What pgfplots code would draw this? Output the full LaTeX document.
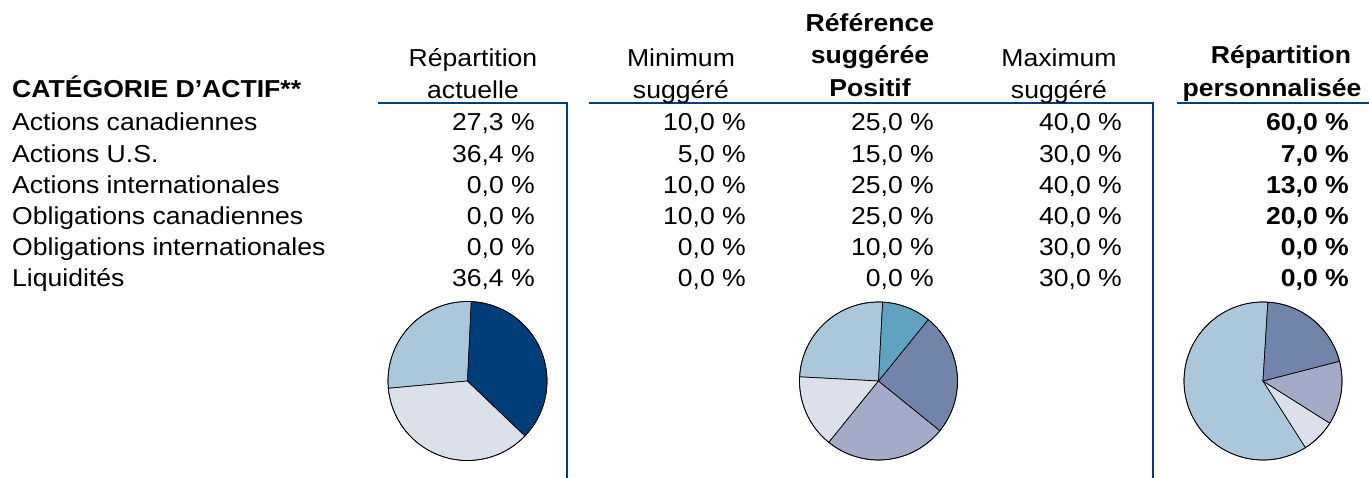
\documentclass[border=0pt]{standalone}
\usepackage{pgfplots}
\pgfplotsset{compat=1.18}
\usepackage{fontspec}
\setmainfont[FakeStretch=1.085]{Liberation Sans}
\definecolor{navy}{HTML}{003E7A}
\definecolor{cA}{HTML}{ABC7DC}
\definecolor{cB}{HTML}{DCE0EA}
\definecolor{cC}{HTML}{A3ABC8}
\definecolor{cD}{HTML}{7384AB}
\definecolor{cE}{HTML}{5FA3BF}
\definecolor{cF}{HTML}{003E7A}

% pie: center, radius, start angle, list value/colour (counterclockwise)
\newcommand\pie[4]{%
  \xdef\curang{#3}%
  \foreach \v/\c in {#4}{%
    \pgfmathsetmacro\endang{\curang+3.6*\v}%
    \ifdim\v pt>0pt\relax
      \filldraw[draw=black, line width=0.7bp, fill=\c] (#1) -- ++(\curang:#2)
        arc[start angle=\curang, end angle=\endang, radius=#2] -- cycle;
    \fi
    \xdef\curang{\endang}%
  }%
  \draw[black, line width=0.7bp] (#1) circle[radius=#2];
}

\begin{document}
\begin{tikzpicture}[x=1bp,y=1bp,
  txt/.style={font=\fontsize{24.5bp}{29bp}\selectfont, inner sep=0pt},
  btxt/.style={font=\fontsize{24.5bp}{29bp}\selectfont\bfseries, inner sep=0pt}]
\useasboundingbox (0,0) rectangle (1369,478);
\begin{axis}[at={(0,0)}, anchor=south west, width=1369bp, height=478bp,
  scale only axis, hide axis, xmin=0, xmax=1369, ymin=0, ymax=478, clip=false]
  \coordinate (P1) at (axis cs:467.5,97);
  \coordinate (P2) at (axis cs:878.5,97);
  \coordinate (P3) at (axis cs:1263,97);
  % rules
  \draw[navy, line width=2bp] (axis cs:378,374.5) -- (axis cs:567,374.5) -- (axis cs:567,0);
  \draw[navy, line width=2bp] (axis cs:589,374.5) -- (axis cs:1153,374.5) -- (axis cs:1153,0);
  \draw[navy, line width=2bp] (axis cs:1177,374.5) -- (axis cs:1369,374.5);
  % headers
  \node[btxt, anchor=base west] at (axis cs:12,380) {CATÉGORIE D’ACTIF**};
  \node[txt, anchor=base] at (axis cs:473,411.5) {Répartition};
  \node[txt, anchor=base] at (axis cs:473,379) {actuelle};
  \node[txt, anchor=base] at (axis cs:681,411.5) {Minimum};
  \node[txt, anchor=base] at (axis cs:681,379) {suggéré};
  \node[btxt, anchor=base] at (axis cs:870,446.5) {Référence};
  \node[btxt, anchor=base] at (axis cs:870,414) {suggérée};
  \node[btxt, anchor=base] at (axis cs:870,381.5) {Positif};
  \node[txt, anchor=base] at (axis cs:1059,411.5) {Maximum};
  \node[txt, anchor=base] at (axis cs:1059,379) {suggéré};
  \node[btxt, anchor=base] at (axis cs:1281,414) {Répartition};
  \node[btxt, anchor=base] at (axis cs:1272,381.5) {personnalisée};
  % rows
  \node[txt, anchor=base west] at (axis cs:12,347)   {Actions canadiennes};
  \node[txt, anchor=base west] at (axis cs:12,315.9) {Actions U.S.};
  \node[txt, anchor=base west] at (axis cs:12,284.8) {Actions internationales};
  \node[txt, anchor=base west] at (axis cs:12,253.7) {Obligations canadiennes};
  \node[txt, anchor=base west] at (axis cs:12,222.6) {Obligations internationales};
  \node[txt, anchor=base west] at (axis cs:12,191.5) {Liquidités};
  % column 1
  \node[txt, anchor=base east] at (axis cs:535,347)   {27,3 \%};
  \node[txt, anchor=base east] at (axis cs:535,315.9) {36,4 \%};
  \node[txt, anchor=base east] at (axis cs:535,284.8) {0,0 \%};
  \node[txt, anchor=base east] at (axis cs:535,253.7) {0,0 \%};
  \node[txt, anchor=base east] at (axis cs:535,222.6) {0,0 \%};
  \node[txt, anchor=base east] at (axis cs:535,191.5) {36,4 \%};
  % column 2
  \node[txt, anchor=base east] at (axis cs:746,347)   {10,0 \%};
  \node[txt, anchor=base east] at (axis cs:746,315.9) {5,0 \%};
  \node[txt, anchor=base east] at (axis cs:746,284.8) {10,0 \%};
  \node[txt, anchor=base east] at (axis cs:746,253.7) {10,0 \%};
  \node[txt, anchor=base east] at (axis cs:746,222.6) {0,0 \%};
  \node[txt, anchor=base east] at (axis cs:746,191.5) {0,0 \%};
  % column 3
  \node[txt, anchor=base east] at (axis cs:934,347)   {25,0 \%};
  \node[txt, anchor=base east] at (axis cs:934,315.9) {15,0 \%};
  \node[txt, anchor=base east] at (axis cs:934,284.8) {25,0 \%};
  \node[txt, anchor=base east] at (axis cs:934,253.7) {25,0 \%};
  \node[txt, anchor=base east] at (axis cs:934,222.6) {10,0 \%};
  \node[txt, anchor=base east] at (axis cs:934,191.5) {0,0 \%};
  % column 4
  \node[txt, anchor=base east] at (axis cs:1122,347)   {40,0 \%};
  \node[txt, anchor=base east] at (axis cs:1122,315.9) {30,0 \%};
  \node[txt, anchor=base east] at (axis cs:1122,284.8) {40,0 \%};
  \node[txt, anchor=base east] at (axis cs:1122,253.7) {40,0 \%};
  \node[txt, anchor=base east] at (axis cs:1122,222.6) {30,0 \%};
  \node[txt, anchor=base east] at (axis cs:1122,191.5) {30,0 \%};
  % column 5
  \node[btxt, anchor=base east] at (axis cs:1349,347)   {60,0 \%};
  \node[btxt, anchor=base east] at (axis cs:1349,315.9) {7,0 \%};
  \node[btxt, anchor=base east] at (axis cs:1349,284.8) {13,0 \%};
  \node[btxt, anchor=base east] at (axis cs:1349,253.7) {20,0 \%};
  \node[btxt, anchor=base east] at (axis cs:1349,222.6) {0,0 \%};
  \node[btxt, anchor=base east] at (axis cs:1349,191.5) {0,0 \%};
\end{axis}
\pie{P1}{79.5bp}{87}{27.3/cA,36.4/cB,0/cC,0/cD,0/cE,36.4/cF}
\pie{P2}{79bp}{87}{25/cA,15/cB,25/cC,25/cD,10/cE,0/cF}
\pie{P3}{79bp}{86.5}{60/cA,7/cB,13/cC,20/cD,0/cE,0/cF}
\end{tikzpicture}
\end{document}
